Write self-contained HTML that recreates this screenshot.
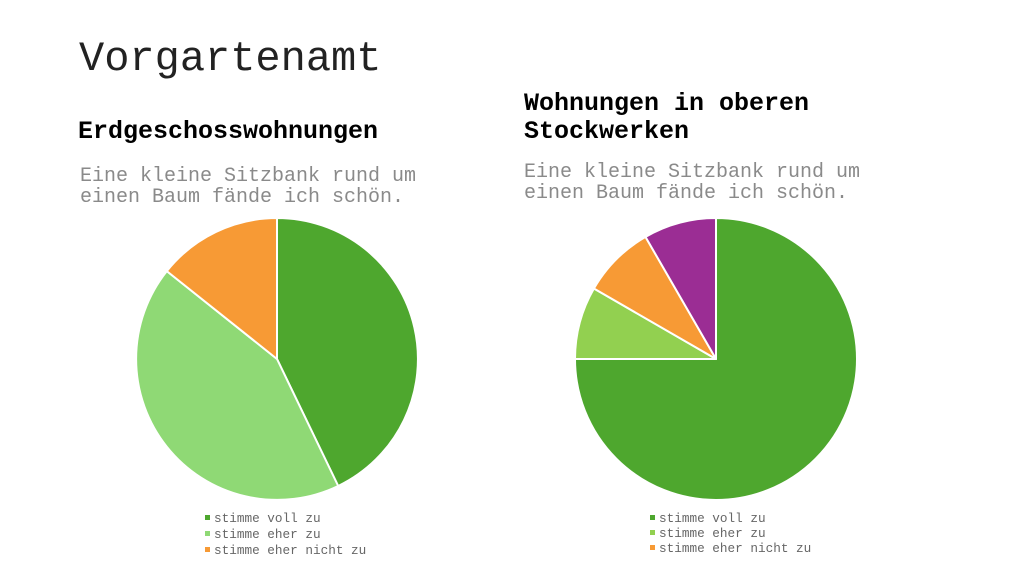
<!DOCTYPE html>
<html><head><meta charset="utf-8"><style>
body{margin:0;background:#fff;}
svg{display:block;}
</style></head><body>
<svg width="1024" height="576" xmlns="http://www.w3.org/2000/svg" font-family="'Liberation Mono', monospace">
<rect width="1024" height="576" fill="#fff"/>
<text x="79" y="70" font-size="42" fill="#222">Vorgartenamt</text>
<text x="78" y="138" font-size="25" font-weight="bold" fill="#000">Erdgeschosswohnungen</text>
<text x="80" y="181" font-size="20" fill="#8a8a8a">Eine kleine Sitzbank rund um</text>
<text x="80" y="202" font-size="20" fill="#8a8a8a">einen Baum fände ich schön.</text>
<text x="524" y="110" font-size="25" font-weight="bold" fill="#000">Wohnungen in oberen</text>
<text x="524" y="138" font-size="25" font-weight="bold" fill="#000">Stockwerken</text>
<text x="524" y="177" font-size="20" fill="#8a8a8a">Eine kleine Sitzbank rund um</text>
<text x="524" y="198" font-size="20" fill="#8a8a8a">einen Baum fände ich schön.</text>
<g stroke="#fff" stroke-width="2" stroke-linejoin="round">
<path d="M277,359 L277,218 A141,141 0 0 1 338.2,486.0 Z" fill="#4ea72e"/>
<path d="M277,359 L338.2,486.0 A141,141 0 0 1 166.8,271.1 Z" fill="#8fd975"/>
<path d="M277,359 L166.8,271.1 A141,141 0 0 1 277,218 Z" fill="#f79a35"/>
<path d="M716,359 L716,218 A141,141 0 1 1 575,359 Z" fill="#4ea72e"/>
<path d="M716,359 L575,359 A141,141 0 0 1 593.9,288.5 Z" fill="#92d050"/>
<path d="M716,359 L593.9,288.5 A141,141 0 0 1 645.5,236.9 Z" fill="#f79a35"/>
<path d="M716,359 L645.5,236.9 A141,141 0 0 1 716,218 Z" fill="#9b2d94"/>
</g>
<g font-size="12.7" fill="#666">
<rect x="205" y="515" width="5" height="5" fill="#4ea72e"/><text x="214" y="522">stimme voll zu</text>
<rect x="205" y="531" width="5" height="5" fill="#8fd975"/><text x="214" y="538">stimme eher zu</text>
<rect x="205" y="547" width="5" height="5" fill="#f79a35"/><text x="214" y="554">stimme eher nicht zu</text>
<rect x="650" y="515" width="5" height="5" fill="#4ea72e"/><text x="659" y="522">stimme voll zu</text>
<rect x="650" y="530" width="5" height="5" fill="#92d050"/><text x="659" y="537">stimme eher zu</text>
<rect x="650" y="545" width="5" height="5" fill="#f79a35"/><text x="659" y="552">stimme eher nicht zu</text>
</g>
</svg>
</body></html>
